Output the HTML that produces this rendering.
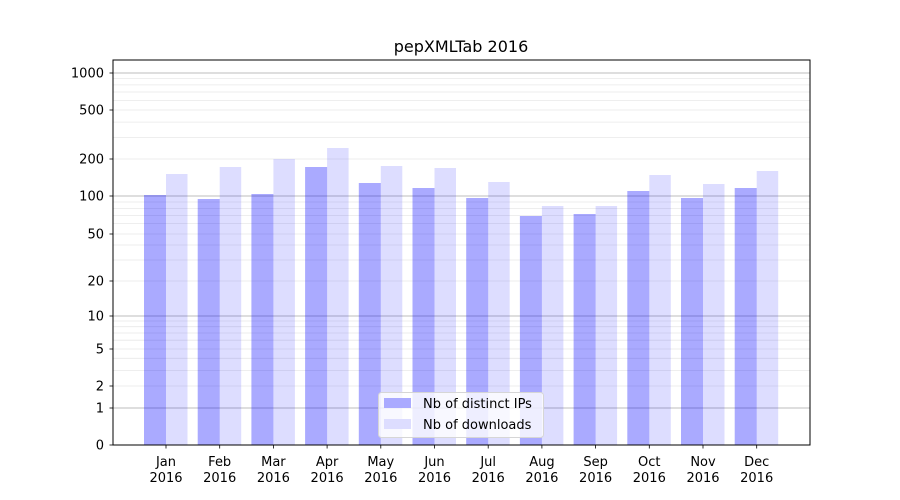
<!DOCTYPE html>
<html><head><meta charset="utf-8"><style>
body{margin:0;background:#fff;}
svg{display:block;font-family:"DejaVu Sans","Liberation Sans",sans-serif;}
</style></head><body>
<svg width="900" height="500" viewBox="0 0 900 500">
<rect width="900" height="500" fill="#fff"/>
<g stroke="#e8e8e8" stroke-width="0.8">
<line x1="113" x2="810" y1="386" y2="386"/><line x1="113" x2="810" y1="370.4" y2="370.4"/><line x1="113" x2="810" y1="358.3" y2="358.3"/><line x1="113" x2="810" y1="349" y2="349"/><line x1="113" x2="810" y1="340.2" y2="340.2"/><line x1="113" x2="810" y1="333" y2="333"/><line x1="113" x2="810" y1="326.7" y2="326.7"/><line x1="113" x2="810" y1="321" y2="321"/>
<line x1="113" x2="810" y1="281" y2="281"/><line x1="113" x2="810" y1="260" y2="260"/><line x1="113" x2="810" y1="245" y2="245"/><line x1="113" x2="810" y1="234" y2="234"/><line x1="113" x2="810" y1="223.6" y2="223.6"/><line x1="113" x2="810" y1="215.5" y2="215.5"/><line x1="113" x2="810" y1="208.4" y2="208.4"/><line x1="113" x2="810" y1="202" y2="202"/>
<line x1="113" x2="810" y1="159" y2="159"/><line x1="113" x2="810" y1="137.5" y2="137.5"/><line x1="113" x2="810" y1="122.1" y2="122.1"/><line x1="113" x2="810" y1="110" y2="110"/><line x1="113" x2="810" y1="100.4" y2="100.4"/><line x1="113" x2="810" y1="92" y2="92"/><line x1="113" x2="810" y1="84.9" y2="84.9"/><line x1="113" x2="810" y1="78.6" y2="78.6"/>
</g>
<g stroke="#bdbdbd" stroke-width="0.9">
<line x1="113" x2="810" y1="408" y2="408"/><line x1="113" x2="810" y1="316" y2="316"/><line x1="113" x2="810" y1="196" y2="196"/><line x1="113" x2="810" y1="73" y2="73"/>
</g>
<g fill="#0000ff" fill-opacity="0.333">
<rect x="144" y="195" width="22" height="250"/>
<rect x="197.7" y="199" width="22" height="246"/>
<rect x="251.4" y="194" width="22" height="251"/>
<rect x="305.1" y="167" width="22" height="278"/>
<rect x="358.8" y="183" width="22" height="262"/>
<rect x="412.5" y="188" width="22" height="257"/>
<rect x="466.2" y="198" width="22" height="247"/>
<rect x="519.9" y="216" width="22" height="229"/>
<rect x="573.6" y="214" width="22" height="231"/>
<rect x="627.3" y="191" width="22" height="254"/>
<rect x="681" y="198" width="22" height="247"/>
<rect x="734.7" y="188" width="22" height="257"/>
</g>
<g fill="#0000ff" fill-opacity="0.134">
<rect x="166" y="174" width="21.5" height="271"/>
<rect x="219.7" y="167" width="21.5" height="278"/>
<rect x="273.4" y="159" width="21.5" height="286"/>
<rect x="327.1" y="148" width="21.5" height="297"/>
<rect x="380.8" y="166" width="21.5" height="279"/>
<rect x="434.5" y="168" width="21.5" height="277"/>
<rect x="488.2" y="182" width="21.5" height="263"/>
<rect x="541.9" y="206" width="21.5" height="239"/>
<rect x="595.6" y="206" width="21.5" height="239"/>
<rect x="649.3" y="175" width="21.5" height="270"/>
<rect x="703" y="184" width="21.5" height="261"/>
<rect x="756.7" y="171" width="21.5" height="274"/>
</g>
<rect x="113" y="60" width="697" height="385" fill="none" stroke="#000" stroke-width="1"/>
<g stroke="#000" stroke-width="0.8">
<line x1="109.5" x2="113" y1="445" y2="445"/><line x1="109.5" x2="113" y1="408" y2="408"/><line x1="109.5" x2="113" y1="386" y2="386"/><line x1="109.5" x2="113" y1="349" y2="349"/><line x1="109.5" x2="113" y1="316" y2="316"/><line x1="109.5" x2="113" y1="281" y2="281"/><line x1="109.5" x2="113" y1="234" y2="234"/><line x1="109.5" x2="113" y1="196" y2="196"/><line x1="109.5" x2="113" y1="159" y2="159"/><line x1="109.5" x2="113" y1="110" y2="110"/><line x1="109.5" x2="113" y1="73" y2="73"/>
<line x1="166" x2="166" y1="445" y2="448.5"/><line x1="219.7" x2="219.7" y1="445" y2="448.5"/><line x1="273.4" x2="273.4" y1="445" y2="448.5"/><line x1="327.1" x2="327.1" y1="445" y2="448.5"/><line x1="380.8" x2="380.8" y1="445" y2="448.5"/><line x1="434.5" x2="434.5" y1="445" y2="448.5"/><line x1="488.2" x2="488.2" y1="445" y2="448.5"/><line x1="541.9" x2="541.9" y1="445" y2="448.5"/><line x1="595.6" x2="595.6" y1="445" y2="448.5"/><line x1="649.3" x2="649.3" y1="445" y2="448.5"/><line x1="703" x2="703" y1="445" y2="448.5"/><line x1="756.7" x2="756.7" y1="445" y2="448.5"/>
</g>
<g font-size="13" text-anchor="end" fill="#000">
<text x="104" y="449.5">0</text><text x="104" y="412.5">1</text><text x="104" y="390.5">2</text><text x="104" y="353.5">5</text><text x="104" y="320.5">10</text><text x="104" y="285.5">20</text><text x="104" y="238.5">50</text><text x="104" y="200.5">100</text><text x="104" y="163.5">200</text><text x="104" y="114.5">500</text><text x="104" y="77.5">1000</text>
</g>
<g font-size="13" text-anchor="middle" fill="#000">
<text x="166" y="466">Jan</text><text x="166" y="482">2016</text>
<text x="219.7" y="466">Feb</text><text x="219.7" y="482">2016</text>
<text x="273.4" y="466">Mar</text><text x="273.4" y="482">2016</text>
<text x="327.1" y="466">Apr</text><text x="327.1" y="482">2016</text>
<text x="380.8" y="466">May</text><text x="380.8" y="482">2016</text>
<text x="434.5" y="466">Jun</text><text x="434.5" y="482">2016</text>
<text x="488.2" y="466">Jul</text><text x="488.2" y="482">2016</text>
<text x="541.9" y="466">Aug</text><text x="541.9" y="482">2016</text>
<text x="595.6" y="466">Sep</text><text x="595.6" y="482">2016</text>
<text x="649.3" y="466">Oct</text><text x="649.3" y="482">2016</text>
<text x="703" y="466">Nov</text><text x="703" y="482">2016</text>
<text x="756.7" y="466">Dec</text><text x="756.7" y="482">2016</text>
<text x="461" y="52" font-size="16">pepXMLTab 2016</text>
</g>
<rect x="378.5" y="392.5" width="165" height="45" rx="3" fill="#fff" fill-opacity="0.8" stroke="#d6d6d6"/>
<rect x="384" y="398" width="27" height="10" fill="#aaaaff"/>
<rect x="384" y="419" width="27" height="10" fill="#ddddff"/>
<text x="423" y="408" font-size="13">Nb of distinct IPs</text>
<text x="423" y="429" font-size="13">Nb of downloads</text>
</svg>
</body></html>
